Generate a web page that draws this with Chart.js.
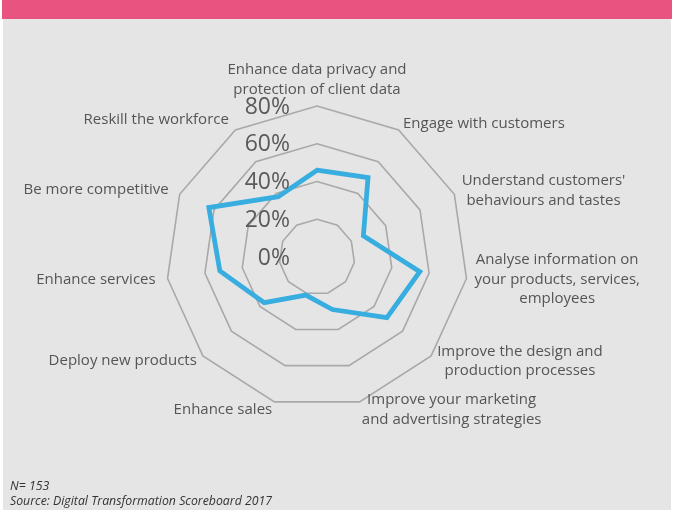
<!DOCTYPE html>
<html>
<head>
<meta charset="utf-8">
<script src="https://cdn.jsdelivr.net/npm/chart.js@4.4.0/dist/chart.umd.min.js"></script>
<style>
  html, body { margin: 0; padding: 0; background: #fff; }
  #page { position: relative; width: 676px; height: 510px; overflow: hidden; }
  #barra { position: absolute; left: 2px; top: 0; width: 670px; height: 19px; background: #e8537f; }
  #fondo { position: absolute; left: 3px; top: 19px; width: 668px; height: 491px; background: #e5e5e5; }
  #grafico { position: absolute; left: 0; top: 0; width: 676px; height: 510px; }
  #nota { position: absolute; left: 10px; top: 478px; font-family: "Open Sans", sans-serif; font-style: italic;
          font-size: 12.3px; line-height: 15px; color: #333; }
</style>
</head>
<body>
<div id="page">
  <div id="barra"></div>
  <div id="fondo"></div>
  <div id="grafico"><canvas id="radarChart"></canvas></div>
  <div id="nota">N= 153<br>Source: Digital Transformation Scoreboard 2017</div>
</div>
<script>
// Categorías (en el sentido de las agujas del reloj desde arriba)
const categorias = [
  ['Enhance data privacy and', 'protection of client data'],
  ['Engage with customers'],
  ["Understand customers'", 'behaviours and tastes'],
  ['Analyse information on', 'your products, services,', 'employees'],
  ['Improve the design and', 'production processes'],
  ['Improve your marketing', 'and advertising strategies'],
  ['Enhance sales'],
  ['Deploy new products'],
  ['Enhance services'],
  ['Be more competitive'],
  ['Reskill the workforce']
];

// Porcentaje de empresas
const valores = [46, 50, 27, 55, 49, 29, 21, 37, 52, 63, 38];

// Marcas del eje radial
const marcas = [0, 20, 40, 60, 80];

// Etiquetas del eje a la izquierda del centro
const etiquetasEje = {
  id: 'etiquetasEje',
  afterDraw(chart) {
    const r = chart.scales.r;
    const ctx = chart.ctx;
    ctx.save();
    ctx.font = '23px "Open Sans", sans-serif';
    ctx.fillStyle = '#5a5a5a';
    ctx.textAlign = 'right';
    ctx.textBaseline = 'middle';
    marcas.forEach(v => {
      const d = r.getDistanceFromCenterForValue(v);
      ctx.fillText(v + '%', r.xCenter - 27, r.yCenter - d + 1);
    });
    ctx.restore();
  }
};

// Etiquetas de las categorías: bloque centrado verticalmente en el vértice,
// líneas centradas entre sí
const etiquetasPuntos = {
  id: 'etiquetasPuntos',
  afterDraw(chart) {
    const r = chart.scales.r;
    const ctx = chart.ctx;
    const alto = 19.5;
    ctx.save();
    ctx.font = '15px "Open Sans", sans-serif';
    ctx.fillStyle = '#555';
    ctx.textAlign = 'center';
    ctx.textBaseline = 'middle';
    categorias.forEach((lineas, i) => {
      const a = r.getIndexAngle(i);
      const seno = Math.sin(a), coseno = Math.cos(a);
      const extra = (seno < -0.05 && coseno > -0.3) ? 4 : 0;
      const p = r.getPointPosition(i, r.drawingArea + 8 + extra);
      const ancho = Math.max(...lineas.map(t => ctx.measureText(t).width));
      let cx = p.x;
      if (seno > 0.05) cx = p.x + ancho / 2;
      else if (seno < -0.05) cx = p.x - ancho / 2;
      let cy = p.y - (lineas.length - 1) * alto / 2;
      if (i === 0) cy = p.y + 1 - (lineas.length - 0.5) * alto;
      lineas.forEach((t, k) => ctx.fillText(t, cx, cy + k * alto));
    });
    ctx.restore();
  }
};

const ctx = document.getElementById('radarChart').getContext('2d');
new Chart(ctx, {
  type: 'radar',
  data: {
    labels: categorias,
    datasets: [{
      data: valores,
      borderColor: '#38addf',
      borderWidth: 4.8,
      fill: false,
      pointRadius: 0,
      pointHoverRadius: 0
    }]
  },
  options: {
    responsive: true,
    maintainAspectRatio: false,
    animation: false,
    layout: { padding: { left: 166, top: 106, right: 208, bottom: 102 } },
    plugins: {
      legend: { display: false },
      tooltip: { enabled: false }
    },
    scales: {
      r: {
        min: 0,
        max: 80,
        ticks: { stepSize: 20, display: false },
        grid: { color: '#a9a9a9', lineWidth: 1.6 },
        angleLines: { display: false },
        pointLabels: { display: false }
      }
    }
  },
  plugins: [etiquetasEje, etiquetasPuntos]
});
</script>
</body>
</html>
